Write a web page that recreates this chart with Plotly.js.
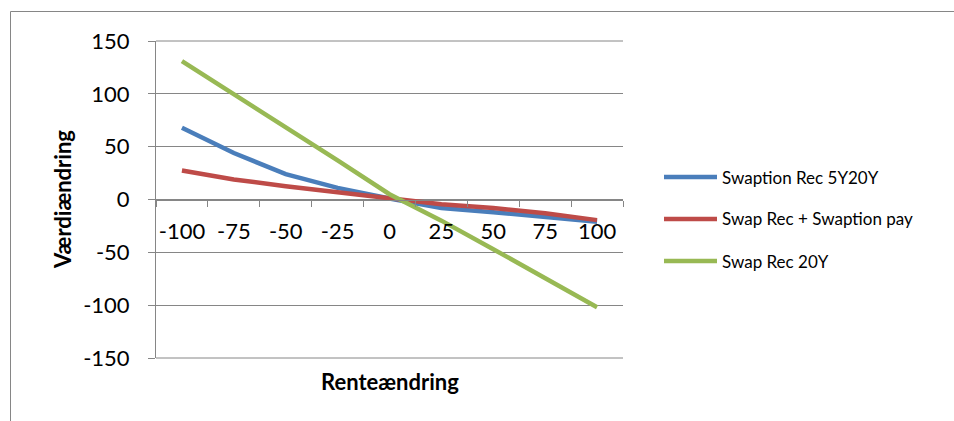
<!DOCTYPE html>
<html>
<head>
<meta charset="utf-8">
<script src="https://cdn.plot.ly/plotly-3.0.1.min.js"></script>
<style>
  html, body { margin: 0; padding: 0; background: #fff; }
  #chart { width: 954px; height: 421px; }
</style>
</head>
<body>
<div id="chart"></div>
<script>
// Rate change in basis points (category axis)
const rateChanges = ['-100', '-75', '-50', '-25', '0', '25', '50', '75', '100'];

// Value change per strategy
const swaptionRec5Y20Y = [68, 44, 24, 11, 1, -8, -12, -16, -21];
const swapRecSwaptionPay = [27.5, 19, 12.5, 6.5, 0.5, -4.5, -8, -13, -19.5];
const swapRec20Y = [131, 100, 68, 37, 5, -20, -47, -74, -102];

const seriesNames = ['Swaption Rec 5Y20Y', 'Swap Rec + Swaption pay', 'Swap Rec 20Y'];
const seriesColors = ['#4A7EBB', '#BE4B48', '#98B954'];
const seriesValues = [swaptionRec5Y20Y, swapRecSwaptionPay, swapRec20Y];

// Value axis ticks
const yTickVals = [-150, -100, -50, 0, 50, 100, 150];
const yTickText = ['-150', '-100', '-50', '0', '50', '100', '150'];

const xTitle = 'Renteændring';
const yTitle = 'Værdiændring';

const W = 954, H = 421;
const M = { l: 156, r: 331, t: 41, b: 63 };
const plotW = W - M.l - M.r, plotH = H - M.t - M.b;
const px2x = p => (p - M.l) / plotW;
const px2y = p => 1 - (p - M.t) / plotH;

const gray = '#868686';
const font = 'Lato, "Open Sans", sans-serif';

const traces = seriesValues.map((vals, i) => ({
  type: 'scatter',
  mode: 'lines',
  x: rateChanges,
  y: vals,
  name: seriesNames[i],
  line: { color: seriesColors[i], width: 4.5 },
  showlegend: false,
  hoverinfo: 'skip'
}));

const shapes = [];
const annotations = [];

// Top and bottom gridlines at the ends of the value range
[0, 1].forEach(yp => shapes.push({
  type: 'line', xref: 'paper', yref: 'paper', layer: 'below',
  x0: 0, x1: 1, y0: yp, y1: yp,
  line: { color: gray, width: 1 }
}));

// Legend drawn as line samples plus labels on the right
const legendRows = [177, 219, 261];
seriesNames.forEach((name, i) => {
  shapes.push({
    type: 'line', xref: 'paper', yref: 'paper',
    x0: px2x(664), x1: px2x(717), y0: px2y(legendRows[i]), y1: px2y(legendRows[i]),
    line: { color: seriesColors[i], width: 4.5 }
  });
  annotations.push({
    xref: 'paper', yref: 'paper', x: px2x(720), y: px2y(legendRows[i]),
    xanchor: 'left', yanchor: 'middle', showarrow: false,
    text: name, font: { family: font, size: 17, color: '#000' }
  });
});

// Outer chart frame (left and top edges)
shapes.push({
  type: 'path', xref: 'paper', yref: 'paper',
  path: `M ${px2x(10.5)} ${px2y(440)} L ${px2x(10.5)} ${px2y(11.5)} L ${px2x(970)} ${px2y(11.5)}`,
  line: { color: gray, width: 1 }
});

// Axis titles
annotations.push({
  xref: 'paper', yref: 'paper', x: 0.5, y: px2y(381),
  xanchor: 'center', yanchor: 'middle', showarrow: false,
  text: '<b>' + xTitle + '</b>', font: { family: font, size: 22, color: '#000' }
});
annotations.push({
  xref: 'paper', yref: 'paper', x: px2x(62), y: px2y(200),
  xanchor: 'center', yanchor: 'middle', showarrow: false, textangle: -90,
  text: '<b>' + yTitle + '</b>', font: { family: font, size: 22, color: '#000' }
});

const layout = {
  width: W, height: H,
  margin: M,
  paper_bgcolor: '#fff', plot_bgcolor: '#fff',
  showlegend: false,
  xaxis: {
    type: 'category',
    categoryorder: 'array', categoryarray: rateChanges,
    range: [-0.5, rateChanges.length - 0.5],
    anchor: 'free', position: 0.5,
    tickson: 'boundaries',
    ticks: 'outside', ticklen: 6, tickcolor: gray, tickwidth: 1,
    tickangle: 0,
    showline: true, linecolor: gray, linewidth: 1,
    showgrid: false, zeroline: false,
    ticklabelstandoff: 12,
    tickfont: { family: font, size: 22, color: '#000' }
  },
  yaxis: {
    range: [-150, 150],
    tickvals: yTickVals, ticktext: yTickText,
    ticks: 'outside', ticklen: 7, tickcolor: gray, tickwidth: 1,
    showline: true, linecolor: gray, linewidth: 1,
    showgrid: true, gridcolor: gray, gridwidth: 1,
    zeroline: false,
    ticklabelstandoff: 14,
    tickfont: { family: font, size: 22, color: '#000' }
  },
  shapes: shapes,
  annotations: annotations
};

Plotly.newPlot('chart', traces, layout, { staticPlot: true, displayModeBar: false });
</script>
</body>
</html>
